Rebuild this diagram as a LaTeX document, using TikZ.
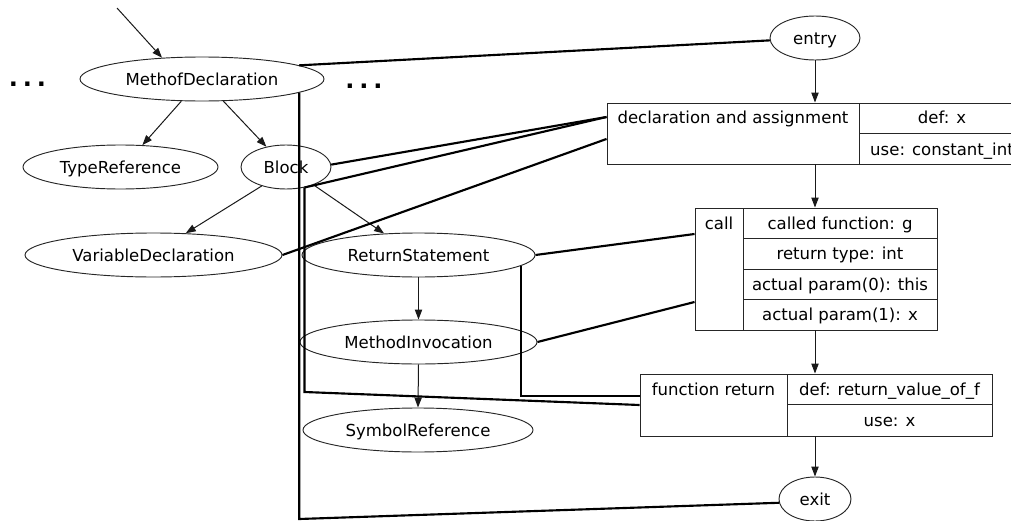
\documentclass[tikz,border=0pt]{standalone}
\usepackage{fontspec}
\setmainfont{DejaVu Sans}
\usetikzlibrary{shapes.geometric,arrows.meta,calc}

\begin{document}
\begin{tikzpicture}[x=0.75pt,y=-0.75pt,
  font=\fontsize{12.4}{14}\selectfont,
  astnode/.style={ellipse, draw=black!85, line width=0.7pt, inner sep=0pt,
    minimum height=33pt, text height=9pt, text depth=0pt},
  recbox/.style={rectangle, draw=black!85, line width=0.7pt, inner sep=0pt},
  lbl/.style={inner sep=0pt, text height=9pt, text depth=0pt},
  dots/.style={inner sep=0pt, anchor=base, font=\fontsize{18}{20}\selectfont\bfseries},
  tree/.style={draw=black!90, line width=0.75pt, -{Triangle[length=7.5pt,width=5.5pt]}},
  flow/.style={draw=black!90, line width=0.75pt, -{Triangle[length=7.5pt,width=5.5pt]}},
  link/.style={draw=black, line width=1.6pt, line join=miter}
]
\useasboundingbox (0,0) rectangle (1011,521);
\clip (0,0) rectangle (1011,521);

% ---------- AST ----------
\node[astnode, minimum width=183pt]    (md)  at (202,79)   {MethofDeclaration};
\node[astnode, minimum width=146.25pt] (tr)  at (120.5,167) {TypeReference};
\node[astnode, minimum width=67.5pt]   (blk) at (286,167)  {Block};
\node[astnode, minimum width=192.75pt] (vd)  at (153.5,255) {VariableDeclaration};
\node[astnode, minimum width=174.75pt] (rs)  at (418.5,255) {ReturnStatement};
\node[astnode, minimum width=177.75pt] (mi)  at (418.5,342) {MethodInvocation};
\node[astnode, minimum width=172.5pt]  (sr)  at (418,430)  {SymbolReference};

\node[dots] (dl) at (27.5,86) {.\kern3.7pt.\kern3.7pt.};
\node[dots] (dr) at (364,88)  {.\kern3.7pt.\kern3.7pt.};

\coordinate (in) at (117,8);
\draw[tree] (in) -- (md.152);
\draw[tree] (md.227) -- (tr.45);
\draw[tree] (md.314) -- (blk.134);
\draw[tree] (blk.218) -- (vd.34);
\draw[tree] (blk.327) -- (rs.148);
\draw[tree] (rs.south) -- (mi.north);
\draw[tree] (mi.south) -- (sr.north);

% ---------- control flow graph ----------
\node[astnode, minimum width=67.5pt] (entry) at (815,38)  {entry};
\node[astnode, minimum width=54pt]   (exit)  at (815,499) {exit};

% declaration and assignment
\node[recbox, minimum width=313.5pt, minimum height=45.75pt] (decl) at (816,133.5) {};
\draw[draw=black!85, line width=0.7pt] (859,103) -- (859,164) (859,133) -- (1025,133);
\node[lbl] (dtxt) at (733,117) {declaration and assignment};
\node[lbl] (ddef) at (942,117) {def: x};
\node[lbl] (duse) at (942,149) {use: constant\_int};

% call
\node[recbox, minimum width=181.5pt, minimum height=91.5pt] (call) at (816,269) {};
\draw[draw=black!85, line width=0.7pt] (743,208) -- (743,330)
  (743,238) -- (937,238) (743,269) -- (937,269) (743,299) -- (937,299);
\node[lbl] (ctxt) at (719,223)   {call};
\node[lbl] (cfn)  at (840,223)   {called function: g};
\node[lbl] (crt)  at (840,253.5) {return type: int};
\node[lbl] (cp0)  at (840,284)   {actual param(0): this};
\node[lbl] (cp1)  at (840,314.5) {actual param(1): x};

% function return
\node[recbox, minimum width=264pt, minimum height=46.5pt] (fret) at (816,405) {};
\draw[draw=black!85, line width=0.7pt] (787,374) -- (787,436) (787,404) -- (992,404);
\node[lbl] (ftxt) at (713.5,389) {function return};
\node[lbl] (fdef) at (889.5,389) {def: return\_value\_of\_f};
\node[lbl] (fuse) at (889.5,420) {use: x};

\draw[flow] (entry.south) -- (entry.south |- decl.north);
\draw[flow] (entry |- decl.south) -- (entry |- call.north);
\draw[flow] (entry |- call.south) -- (entry |- fret.north);
\draw[flow] (entry |- fret.south) -- (exit.north);

% ---------- AST <-> CFG links ----------
\coordinate (bot) at (297,519);
\coordinate (bk)  at (304,392);
\coordinate (rk)  at (521,396);
\draw[link] (md.8) -- (entry.183);
\draw[link] (md.352) -- (md.352 |- bot) -- (exit.186);
\draw[link] (blk.3) -- (decl.west |- dtxt);
\draw[link] (decl.west |- dtxt) -- (blk.312);
\draw[link] (blk.312) -- (blk.312 |- bk) -- (fret.west);
\draw[link] (vd.east) -- ([yshift=-4.1pt]decl.west);
\draw[link] (rs.east) -- ([yshift=26.25pt]call.west);
\draw[link] (mi.east) -- ([yshift=-24.75pt]call.west);
\draw[link] (rs.354) -- (rs.354 |- rk) -- ([yshift=6.75pt]fret.west);
\end{tikzpicture}
\end{document}
